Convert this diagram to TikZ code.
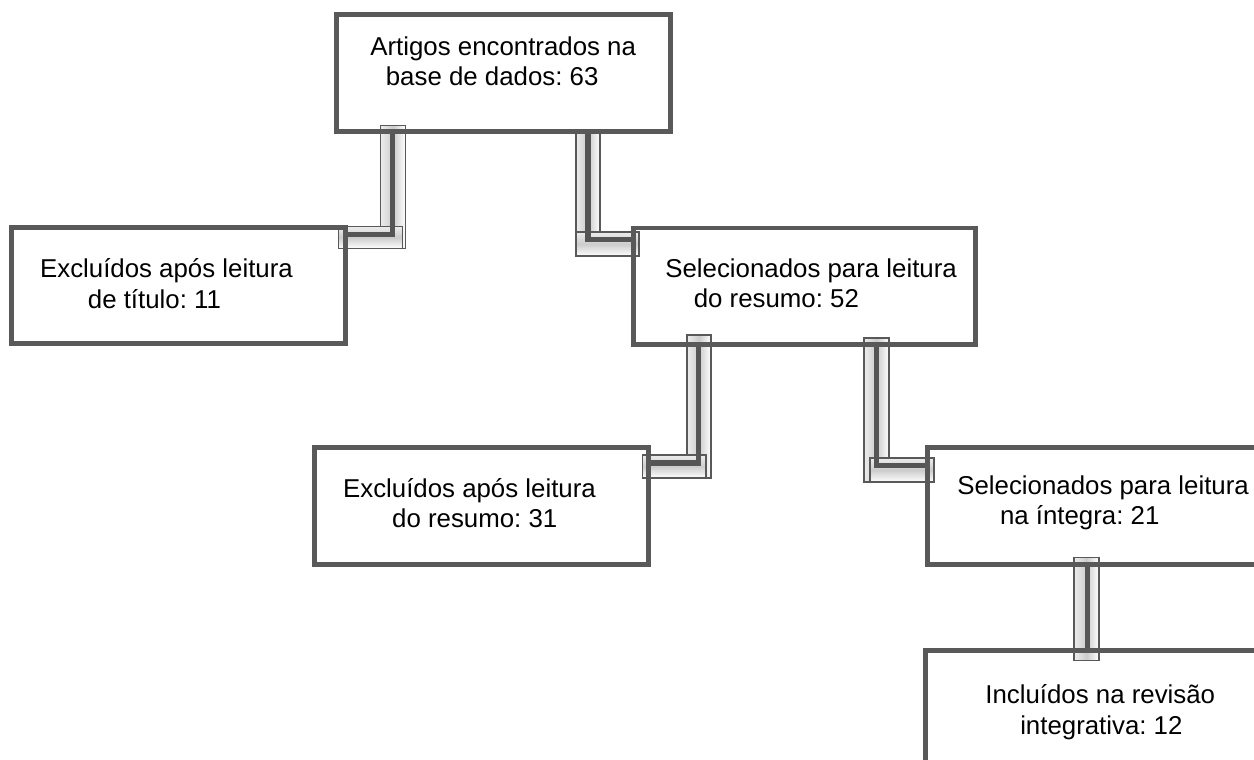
\documentclass[tikz,border=0pt]{standalone}
\usepackage{fontspec}
\setmainfont{Liberation Sans}
\usepackage{tikz}
\usetikzlibrary{calc}
\usetikzlibrary{backgrounds}

\definecolor{borda}{RGB}{89,89,89}
\definecolor{tubo}{RGB}{85,85,85}
\newcommand{\caixafont}{\fontsize{14.7}{17.3}\selectfont\frenchspacing}

\tikzset{
  caixa/.style={draw=borda, line width=2.8pt, minimum width=6.68cm, minimum height=2.33cm, inner sep=0pt, outer sep=0pt},
  texto/.style={font=\caixafont, align=left, anchor=west, inner sep=0pt},
  tubov/.style={left color=gray!15, right color=white, middle color=gray!40, draw=borda, line width=0.7pt},
  tuboh/.style={top color=gray!15, bottom color=white, middle color=gray!40, draw=borda, line width=0.7pt},
  fio/.style={draw=tubo, line width=2.9pt}
}

\begin{document}
\begin{tikzpicture}[x=0.02cm,y=-0.02cm]
  \clip (0,0) rectangle (1254,760);

  % caixas
  \node[caixa] (artigos) at (503.5,73) {};
  \node[caixa] (excl1) at (178.25,285.5) {};
  \node[caixa, minimum width=6.85cm] (sel1) at (804.25,286.25) {};
  \node[caixa] (excl2) at (481.25,506) {};
  \node[caixa, minimum width=6.8cm] (sel2) at (1097.5,506) {};
  \node[caixa, minimum width=6.8cm] (incl) at (1095,709) {};

  % textos
  \node[texto] (artigos-txt) at ($(artigos.west)+(33.5,-12)$) {Artigos encontrados na\\\hspace*{0.6em}base de dados: 63};
  \node[texto] (excl1-txt) at ($(excl1.west)+(28.5,-2)$) {Excluídos após leitura\\\hspace*{1.85em}de título: 11};
  \node[texto] (sel1-txt) at ($(sel1.west)+(32,-3)$) {Selecionados para leitura\\\hspace*{1.1em}do resumo: 52};
  \node[texto] (excl2-txt) at ($(excl2.west)+(28.5,-3)$) {Excluídos após leitura\\\hspace*{1.9em}do resumo: 31};
  \node[texto] (sel2-txt) at ($(sel2.west)+(29.5,-3)$) {Selecionados para leitura\\\hspace*{1.65em}na íntegra: 21};
  \node[texto] (incl-txt) at ($(incl.west)+(60,3)$) {Incluídos na revisão\\\hspace*{1.35em}integrativa: 12};

  % conectores
  \begin{scope}[on background layer]
    \coordinate (k1) at (392.5,234.5);
    \coordinate (k2) at (588,239.5);
    \coordinate (k3) at (698.5,463);
    \coordinate (k4) at (876.5,465.5);
    \coordinate (k5) at (1087.5,600);

    \shadedraw[tubov] ($(artigos.south -| k1)+(-12,-6)$) rectangle ($(k1)+(13,14)$);
    \shadedraw[tuboh] ($(excl1.east |- k1)+(-7,-8)$) rectangle ($(k1)+(10,14)$);
    \draw[fio] (artigos.south -| k1) -- (k1) -- (excl1.east |- k1);

    \shadedraw[tubov] ($(artigos.south -| k2)+(-12,-1.5)$) rectangle ($(k2)+(12,16.5)$);
    \shadedraw[tuboh] ($(k2)+(-12,-7.5)$) rectangle ($(sel1.west |- k2)+(6,16.5)$);
    \draw[fio] (artigos.south -| k2) -- (k2) -- (sel1.west |- k2);

    \shadedraw[tubov] ($(sel1.south -| k3)+(-11.5,-9.5)$) rectangle ($(k3)+(12.5,15)$);
    \shadedraw[tuboh] ($(excl2.east |- k3)+(-6,-8)$) rectangle ($(k3)+(7.5,15)$);
    \draw[fio] (sel1.south -| k3) -- (k3) -- (excl2.east |- k3);

    \shadedraw[tubov] ($(sel1.south -| k4)+(-12.5,-6.5)$) rectangle ($(k4)+(12.5,16.5)$);
    \shadedraw[tuboh] ($(k4)+(-6.5,-7.5)$) rectangle ($(sel2.west |- k4)+(6.5,16.5)$);
    \draw[fio] (sel1.south -| k4) -- (k4) -- (sel2.west |- k4);

    \shadedraw[tubov] ($(sel2.south -| k5)+(-13.5,-6.5)$) rectangle ($(incl.north -| k5)+(11.5,9.5)$);
    \draw[fio] (sel2.south -| k5) -- (incl.north -| k5);
  \end{scope}
\end{tikzpicture}
\end{document}
